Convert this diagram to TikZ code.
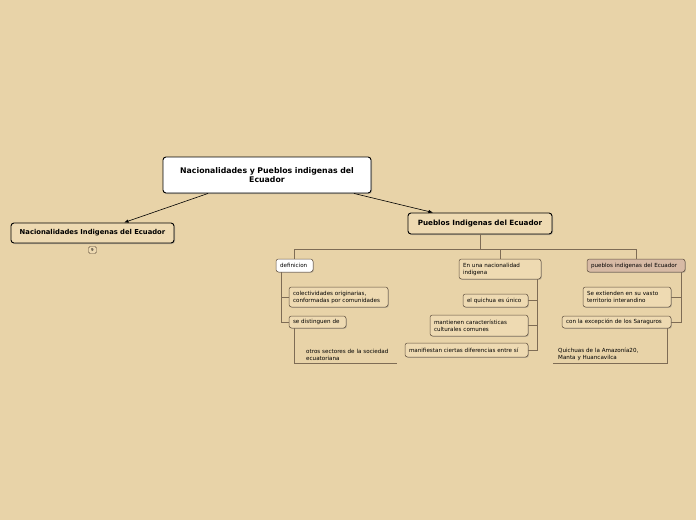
\documentclass[tikz,border=0pt]{standalone}
\usepackage{fontspec}
\setmainfont{DejaVu Sans}
\usepackage{tikz}
\usetikzlibrary{arrows.meta,shadows}
\definecolor{MapBack}{HTML}{E8D3A8}
\definecolor{MapFill}{HTML}{EEDAB2}
\definecolor{MapEdge}{HTML}{5E4E3C}
\definecolor{MapLine}{HTML}{7E6C55}
\definecolor{MapRose}{HTML}{D7BAA5}
\tikzset{
  >={Latex[length=1.6mm,width=1.2mm]},
  flow/.style={->,draw=black,line width=0.6pt},
  link/.style={draw=MapLine,line width=0.5pt},
  mainbox/.style={draw=black,fill=MapFill,rounded corners=3pt,line width=0.9pt,
    align=center,inner xsep=4pt,inner ysep=0pt,font=\bfseries\fontsize{6.8}{8}\selectfont,
    drop shadow={shadow xshift=1pt,shadow yshift=-1pt,opacity=0.45}},
  topicbox/.style={draw=MapEdge,fill=MapFill,rounded corners=2.5pt,line width=0.5pt,
    align=left,inner xsep=4pt,inner ysep=0pt,font=\fontsize{5.6}{7}\selectfont,
    drop shadow={shadow xshift=0.8pt,shadow yshift=-0.8pt,opacity=0.4}},
  leaftext/.style={inner xsep=2pt,inner ysep=2.5pt,align=left,font=\fontsize{5.6}{7}\selectfont}
}

\begin{document}
\begin{tikzpicture}[x=1pt,y=-1pt]
  \fill[MapBack] (0,0) rectangle (696,520);
  \useasboundingbox (0,0) rectangle (696,520);
  % central idea and main topics
  \node[mainbox,fill=white,text width=200pt,minimum height=36pt,
    font=\bfseries\fontsize{7.8}{9.5}\selectfont] (root) at (267,175)
    {Nacionalidades y Pueblos indigenas del\\Ecuador};
  \node[mainbox,text width=155pt,minimum height=20pt] (nacionalidades) at (92.5,233)
    {Nacionalidades Indigenas del Ecuador};
  \node[draw=MapEdge,fill=MapFill,rounded corners=1.5pt,line width=0.4pt,inner sep=0.8pt,
    minimum width=8pt,minimum height=7pt,font=\fontsize{4}{4}\selectfont] (count) at (92.5,250) {9};
  \node[mainbox,text width=136pt,minimum height=21pt,
    font=\bfseries\fontsize{7.2}{8}\selectfont] (pueblos) at (480,223.5)
    {Pueblos Indigenas del Ecuador};
  \draw[flow] ([xshift=-59pt]root.south) -- ([xshift=31.5pt]nacionalidades.north);
  \draw[flow] ([xshift=87pt]root.south) -- ([xshift=-47pt]pueblos.north);

  % subtopics of Pueblos
  \node[topicbox,fill=white,text width=29pt,minimum height=13pt] (definicion) at (294.5,265.5) {definicion};
  \node[topicbox,text width=74pt,minimum height=20pt] (nacion) at (500,269)
    {En una nacionalidad\\indigena};
  \node[topicbox,fill=MapRose,text width=90pt,minimum height=13pt] (pueblosec) at (636,265.5)
    {pueblos indigenas del Ecuador};
  \coordinate (bus) at (480,249);
  \draw[link] (pueblos) -- (bus);
  \draw[link] (bus) -| (definicion);
  \draw[link] (bus) -| (nacion);
  \draw[link] (bus) -| (pueblosec);

  % definicion
  \node[topicbox,text width=91pt,minimum height=20pt] (colect) at (338.5,297)
    {colectividades originarias,\\conformadas por comunidades};
  \node[topicbox,text width=49pt,minimum height=12pt] (distinguen) at (317.5,322) {se distinguen de};
  \node[leaftext,text width=89pt,anchor=south west] (otros) at (304,363)
    {otros sectores de la sociedad\\ecuatoriana};
  \draw[link] ([xshift=5pt]definicion.south west) |- (colect.west);
  \draw[link] ([xshift=5pt]definicion.south west) |- (distinguen.west);
  \draw[link] ([xshift=5pt]distinguen.south west) |- (otros.south east);

  % En una nacionalidad indigena
  \node[topicbox,text width=57pt,minimum height=13pt] (quichua) at (495.5,300.5) {el quichua es único};
  \node[topicbox,text width=90pt,minimum height=21pt] (mantienen) at (479,325.5)
    {mantienen características\\culturales comunes};
  \node[topicbox,text width=115pt,minimum height=14pt] (manifiestan) at (466.5,350)
    {manifiestan ciertas diferencias entre sí};
  \draw[link] ([xshift=-4pt]nacion.south east) |- (quichua.east);
  \draw[link] ([xshift=-4pt]nacion.south east) |- (mantienen.east);
  \draw[link] ([xshift=-4pt]nacion.south east) |- (manifiestan.east);

  % pueblos indigenas del Ecuador
  \node[topicbox,text width=80pt,minimum height=20pt] (extienden) at (627,297)
    {Se extienden en su vasto\\territorio interandino};
  \node[topicbox,text width=101pt,minimum height=12pt] (saraguros) at (616.5,322)
    {con la excepción de los Saraguros};
  \node[leaftext,text width=110pt,anchor=south west,inner xsep=5pt] (quichuas) at (553,363)
    {Quichuas de la Amazonía20,\\Manta y Huancavilca};
  \draw[link] ([xshift=-4pt]pueblosec.south east) |- (extienden.east);
  \draw[link] ([xshift=-4pt]pueblosec.south east) |- (saraguros.east);
  \draw[link] ([xshift=-4pt]saraguros.south east) |- (quichuas.south west);
\end{tikzpicture}
\end{document}
